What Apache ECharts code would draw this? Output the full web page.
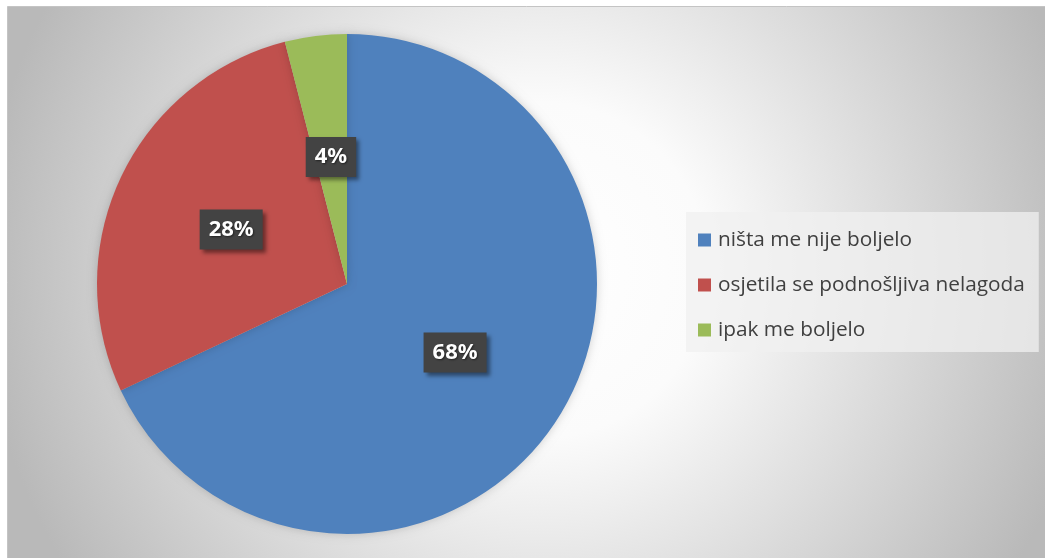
<!DOCTYPE html>
<html>
<head>
<meta charset="utf-8">
<script src="https://cdn.jsdelivr.net/npm/echarts@6/dist/echarts.min.js"></script>
<style>
  html, body { margin: 0; padding: 0; background: #ffffff; }
  #chart { width: 1045px; height: 558px; }
</style>
</head>
<body>
<div id="chart"></div>
<script>
// Survey answers (25 respondents)
const categories = ['ništa me nije boljelo', 'osjetila se podnošljiva nelagoda', 'ipak me boljelo'];
const counts = [17, 7, 1];
const colors = ['#4F81BD', '#C0504D', '#9BBB59'];

const chart = echarts.init(document.getElementById('chart'), null, { renderer: 'canvas' });

const total = counts.reduce((a, b) => a + b, 0);

const option = {
  animation: false,
  backgroundColor: '#ffffff',
  graphic: [{
    type: 'rect',
    z: -10,
    silent: true,
    shape: { x: 7.5, y: 6.5, width: 1045, height: 560 },
    style: {
      fill: new echarts.graphic.RadialGradient(540, 270, 560, [
        { offset: 0, color: '#ffffff' },
        { offset: 0.3, color: '#fbfbfb' },
        { offset: 1, color: '#b9b9b9' }
      ], true),
      stroke: '#c4c4c4',
      lineWidth: 1
    }
  }],
  legend: {
    orient: 'vertical',
    left: 686,
    top: 212,
    padding: [16, 14, 10, 12],
    backgroundColor: 'rgba(240,240,240,0.75)',
    itemWidth: 13,
    itemHeight: 13,
    itemGap: 21,
    icon: 'rect',
    selectedMode: false,
    data: categories,
    textStyle: {
      fontFamily: 'Open Sans',
      fontSize: 20.8,
      lineHeight: 24,
      padding: [0, 0, 0, 2],
      color: '#404040'
    }
  },
  series: [{
    type: 'pie',
    center: [347, 284],
    radius: 250,
    startAngle: 90,
    clockwise: true,
    silent: true,
    data: categories.map((name, i) => ({
      name,
      value: counts[i],
      itemStyle: { color: colors[i] }
    })),
    itemStyle: {
      borderWidth: 0,
      shadowBlur: 10,
      shadowColor: 'rgba(0,0,0,0.18)'
    },
    label: {
      show: true,
      position: 'inside',
      formatter: (p) => Math.round(p.value / total * 100) + '%',
      fontFamily: 'Noto Sans',
      fontWeight: 'bold',
      fontSize: 22,
      lineHeight: 24,
      color: '#ffffff',
      backgroundColor: '#434343',
      padding: [8, 9],
      shadowColor: 'rgba(0,0,0,0.45)',
      shadowBlur: 4,
      shadowOffsetX: 3,
      shadowOffsetY: 3,
      textShadowColor: 'rgba(0,0,0,0.5)',
      textShadowBlur: 2,
      textShadowOffsetX: 1,
      textShadowOffsetY: 1
    },
    labelLine: { show: false }
  }]
};

chart.setOption(option);
</script>
</body>
</html>
